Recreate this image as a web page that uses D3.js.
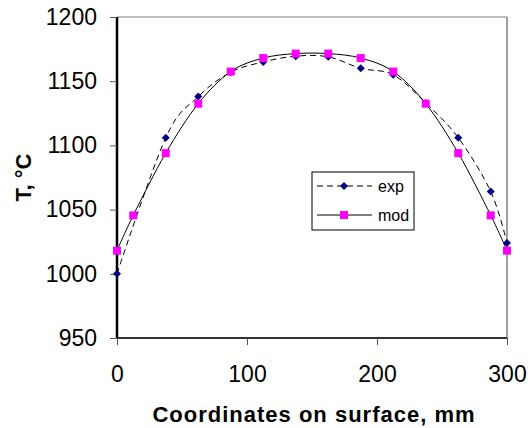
<!DOCTYPE html>
<html>
<head>
<meta charset="utf-8">
<script src="https://cdn.jsdelivr.net/npm/d3@7/dist/d3.min.js"></script>
<style>
  html, body { margin: 0; padding: 0; background: #fff; }
  svg { display: block; font-family: "Liberation Sans", Arial, sans-serif; }
</style>
</head>
<body>
<svg id="chart" width="528" height="428"></svg>
<script>
// Surface temperature profile: measured (exp) vs. modelled (mod)
const expX = [0, 37.5, 62.5, 87.5, 112.5, 137.5, 162.5, 187.5, 212.5, 237.5, 262.5, 287.5, 300];
const expT = [1000, 1106, 1138, 1157, 1165, 1169.5, 1169, 1160, 1155, 1133, 1106, 1064, 1024];
const modX = [0, 12.5, 37.5, 62.5, 87.5, 112.5, 137.5, 162.5, 187.5, 212.5, 237.5, 262.5, 287.5, 300];
const modT = [1018, 1045.5, 1094, 1132.5, 1157.5, 1168, 1171.5, 1171.5, 1168, 1157.5, 1132.5, 1094, 1045.5, 1018];
const xTicks = [0, 100, 200, 300];
const yTicks = [950, 1000, 1050, 1100, 1150, 1200];
const seriesNames = ["exp", "mod"];

const svg = d3.select("#chart");
const plot = { left: 117, right: 507, top: 17, bottom: 338 };

const x = d3.scaleLinear().domain([0, 300]).range([plot.left, plot.right]);
const y = d3.scaleLinear().domain([950, 1200]).range([plot.bottom, plot.top]);

// frame: thin grey top and right edges
svg.append("line").attr("x1", plot.left).attr("x2", plot.right)
  .attr("y1", plot.top).attr("y2", plot.top).attr("stroke", "#808080").attr("stroke-width", 1);
svg.append("line").attr("x1", plot.right).attr("x2", plot.right)
  .attr("y1", plot.top).attr("y2", plot.bottom).attr("stroke", "#404040").attr("stroke-width", 1);

// axes
const xAxis = svg.append("g").attr("transform", `translate(0,${plot.bottom})`)
  .call(d3.axisBottom(x).tickValues(xTicks).tickSize(7).tickPadding(21).tickFormat(d3.format("d")));
const yAxis = svg.append("g").attr("transform", `translate(${plot.left},0)`)
  .call(d3.axisLeft(y).tickValues(yTicks).tickSize(7).tickPadding(13).tickFormat(d3.format("d")));

xAxis.select(".domain").attr("stroke", "#333").attr("stroke-width", 2).attr("d", `M${plot.left},0H${plot.right}`);
yAxis.select(".domain").attr("stroke", "#000").attr("stroke-width", 2.5).attr("d", `M0,${plot.bottom}V${plot.top}`);
svg.selectAll(".tick line").attr("stroke", "#555").attr("stroke-width", 1);
svg.selectAll(".tick text").attr("fill", "#000").style("font-size", "23px")
  .style("font-family", '"Liberation Sans", Arial, sans-serif');

// axis titles
svg.append("text").attr("x", 314).attr("y", 422).attr("text-anchor", "middle")
  .style("font-size", "22px").style("font-weight", "bold").style("letter-spacing", "1px")
  .text("Coordinates on surface, mm");
svg.append("text").attr("transform", `translate(31,${(plot.top + plot.bottom) / 2}) rotate(-90)`)
  .attr("text-anchor", "middle")
  .style("font-size", "22px").style("font-weight", "bold").text("T, °C");

// series lines (smoothed)
const line = d3.line().curve(d3.curveCardinal.tension(0)).x(d => x(d[0])).y(d => y(d[1]));
const expPts = expX.map((v, i) => [v, expT[i]]);
const modPts = modX.map((v, i) => [v, modT[i]]);

svg.append("path").datum(modPts).attr("d", line).attr("fill", "none")
  .attr("stroke", "#000").attr("stroke-width", 1);
svg.append("path").datum(expPts).attr("d", line).attr("fill", "none")
  .attr("stroke", "#000").attr("stroke-width", 1).attr("stroke-dasharray", "6,4");

// markers
const diamond = "M0,-4L4,0L0,4L-4,0Z";
svg.append("g").selectAll("path").data(expPts).join("path")
  .attr("d", diamond).attr("transform", d => `translate(${x(d[0])},${y(d[1])})`)
  .attr("fill", "#000080");
svg.append("g").selectAll("rect").data(modPts).join("rect")
  .attr("x", d => x(d[0]) - 4).attr("y", d => y(d[1]) - 4)
  .attr("width", 8).attr("height", 8).attr("fill", "#ff00ff");

// legend
const lg = svg.append("g");
lg.append("rect").attr("x", 312).attr("y", 172).attr("width", 102).attr("height", 58)
  .attr("fill", "#fff").attr("stroke", "#000").attr("stroke-width", 1);
const rows = [186, 215];
seriesNames.forEach((name, i) => {
  const ly = rows[i];
  lg.append("line").attr("x1", 317).attr("x2", 372).attr("y1", ly).attr("y2", ly)
    .attr("stroke", "#000").attr("stroke-width", 1)
    .attr("stroke-dasharray", i === 0 ? "6,4" : null);
  if (i === 0) {
    lg.append("path").attr("d", diamond).attr("transform", `translate(344,${ly})`).attr("fill", "#000080");
  } else {
    lg.append("rect").attr("x", 340).attr("y", ly - 4).attr("width", 8).attr("height", 8).attr("fill", "#ff00ff");
  }
  lg.append("text").attr("x", 378).attr("y", ly + 6).style("font-size", "16px").text(name);
});
</script>
</body>
</html>
